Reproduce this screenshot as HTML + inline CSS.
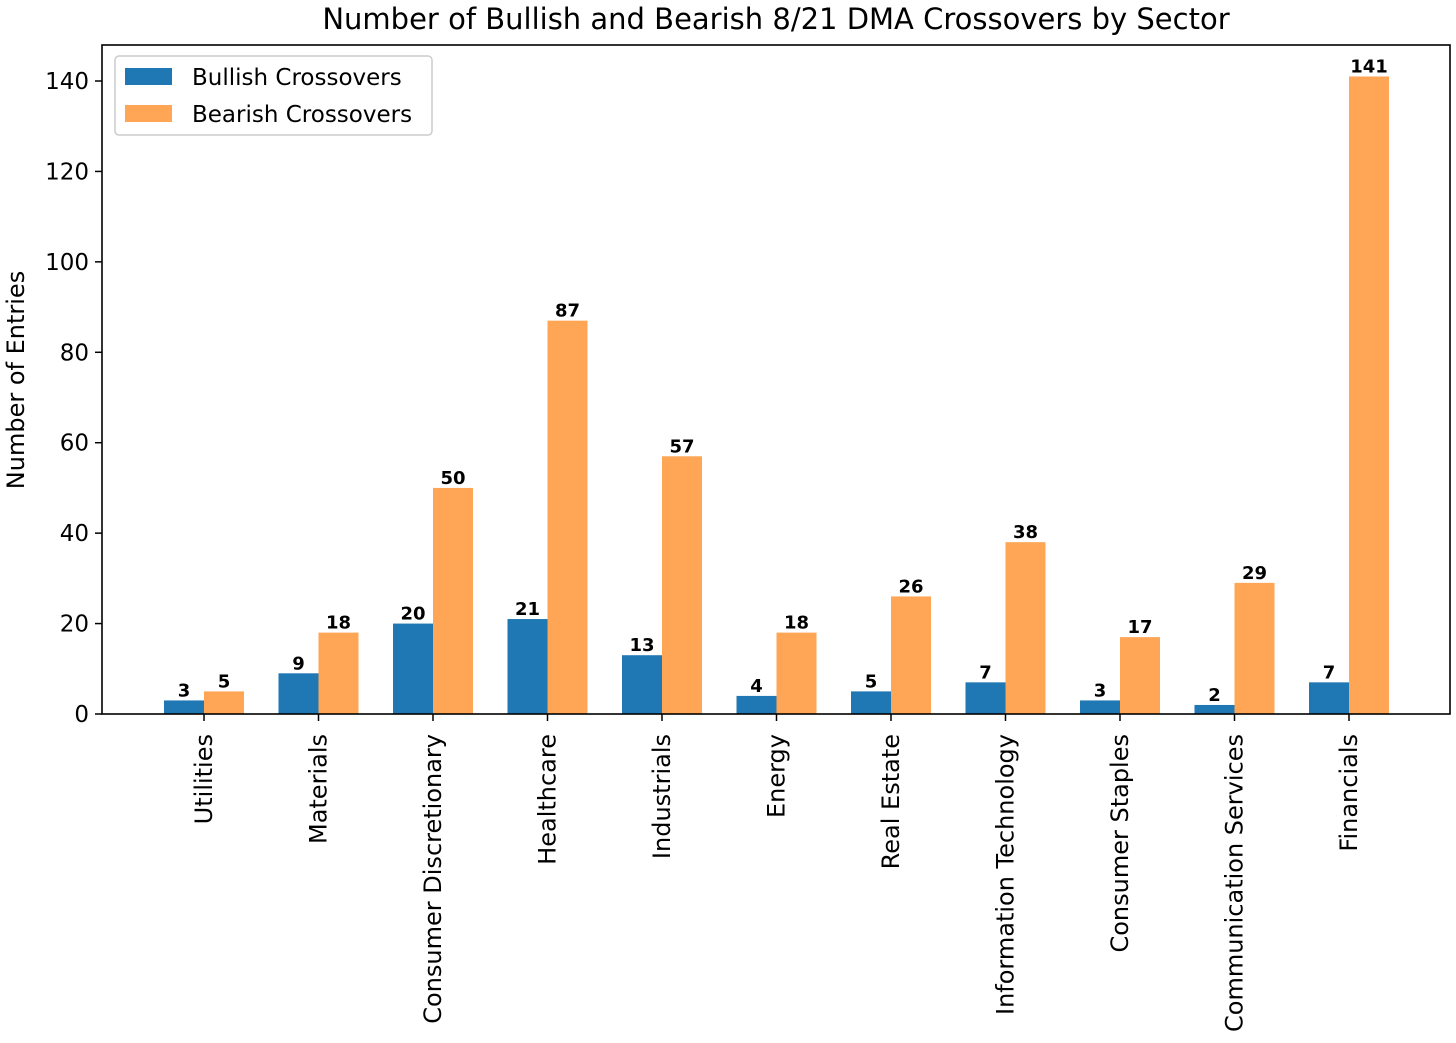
<!DOCTYPE html>
<html><head><meta charset="utf-8"><style>
body{margin:0;background:#fff}
svg text{font-family:"DejaVu Sans","Liberation Sans",sans-serif;fill:#000}
</style></head><body>
<svg id="chart" width="1456" height="1038" xmlns="http://www.w3.org/2000/svg">
<text x="776" y="29" font-size="29" text-anchor="middle">Number of Bullish and Bearish 8/21 DMA Crossovers by Sector</text>
<text transform="translate(24,380) rotate(-90)" font-size="24" text-anchor="middle">Number of Entries</text>
<g id="bars"></g>
<g id="yticks"></g>
<g id="xticks"></g>
<rect x="102" y="45" width="1348" height="669" fill="none" stroke="#000" stroke-width="1.6"/>
<g>
<rect x="115" y="56" width="317" height="79" rx="4" fill="#fff" fill-opacity="0.8" stroke="#ccc" stroke-width="1.5"/>
<rect x="125" y="68" width="47" height="17" fill="#1f77b4"/>
<text x="192" y="85" font-size="23">Bullish Crossovers</text>
<rect x="125" y="105" width="47" height="17" fill="#ffa556"/>
<text x="192" y="122" font-size="23">Bearish Crossovers</text>
</g>
</svg>
<script>
const categories=["Utilities","Materials","Consumer Discretionary","Healthcare","Industrials","Energy","Real Estate","Information Technology","Consumer Staples","Communication Services","Financials"];
const bullish=[3,9,20,21,13,4,5,7,3,2,7];
const bearish=[5,18,50,87,57,18,26,38,17,29,141];
const yTicks=[0,20,40,60,80,100,120,140];
const NS="http://www.w3.org/2000/svg";
const x0=204,step=114.5,bw=40,yBase=714,yScale=(714-81)/140;
const xs=i=>x0+i*step;
const ys=v=>yBase-v*yScale;
function mk(tag,attrs,parent,txt){const e=document.createElementNS(NS,tag);for(const k in attrs)e.setAttribute(k,attrs[k]);if(txt!==undefined)e.textContent=txt;parent.appendChild(e);return e;}
const gb=document.getElementById('bars'),gy=document.getElementById('yticks'),gx=document.getElementById('xticks');
categories.forEach((c,i)=>{
  const cx=xs(i);
  [[bullish[i],cx-bw,'#1f77b4','bullish'],[bearish[i],cx,'#ffa556','bearish']].forEach(([v,x,col,s])=>{
    const r=mk('rect',{x:x,y:ys(v),width:bw,height:v*yScale,fill:col},gb);
    
    
    const t=mk('text',{x:x+bw/2,y:ys(v)-4,'font-size':18,'font-weight':'bold','text-anchor':'middle'},gb,String(v));
    
    
  });
  const tk=mk('line',{x1:cx,x2:cx,y1:714,y2:721,stroke:'#000','stroke-width':1.5},gx);
  
  
  const lt=mk('text',{transform:`translate(${cx+8},734) rotate(-90)`,'font-size':24,'text-anchor':'end'},gx,c);
  
  
});
yTicks.forEach(v=>{
  const y=ys(v);
  const l=mk('line',{x1:95,x2:102,y1:y,y2:y,stroke:'#000','stroke-width':1.5},gy);
  
  
  const t=mk('text',{x:89,y:y+8,'font-size':23,'text-anchor':'end'},gy,String(v));
  
  
});
</script>
</body></html>
